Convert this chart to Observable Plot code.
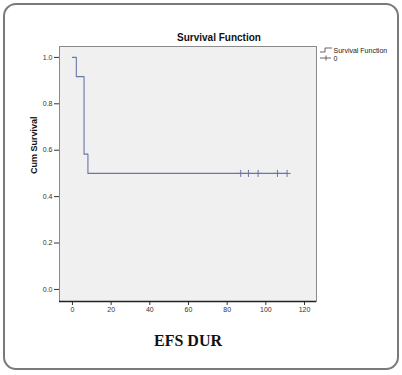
<!DOCTYPE html>
<html>
<head>
<meta charset="utf-8">
<script src="https://cdn.jsdelivr.net/npm/d3@7"></script>
<script src="https://cdn.jsdelivr.net/npm/@observablehq/plot@0.6"></script>
<style>
  html, body { margin: 0; padding: 0; background: #fff; }
  #wrap { position: relative; width: 402px; height: 375px; overflow: hidden; }
  #border { position: absolute; left: 3px; top: 3px; width: 396px; height: 367px; box-sizing: border-box;
            border: 2.5px solid #7a7a7a; border-radius: 13px; pointer-events: none; }
</style>
</head>
<body>
<div id="wrap"><div id="chart"></div><div id="border"></div></div>
<script>
// Kaplan-Meier survival function (EFS DUR)
const times = [0, 2, 6, 8, 111];
const survival = [1.0, 0.917, 0.583, 0.5, 0.5];
const censorTimes = [87, 91, 96, 106, 111];
const censorSurvival = [0.5, 0.5, 0.5, 0.5, 0.5];
const xTicks = [0, 20, 40, 60, 80, 100, 120];
const yTicks = [0.0, 0.2, 0.4, 0.6, 0.8, 1.0];

const curve = times.map((t, i) => ({t, s: survival[i]}));
const censors = censorTimes.map((t, i) => ({t, s: censorSurvival[i]}));

const lineColor = "#6b76a8";
const sans = "Liberation Sans, Arial, sans-serif";

const plot = Plot.plot({
  width: 402,
  height: 375,
  marginLeft: 59,
  marginRight: 86,
  marginTop: 46,
  marginBottom: 74,
  style: {background: "transparent", fontFamily: sans},
  x: {domain: [-6.7, 126.2], ticks: xTicks, tickSize: 4, tickPadding: 2, label: null, tickFormat: d3.format("d")},
  y: {domain: [-0.052, 1.047], ticks: yTicks, tickSize: 5, tickPadding: 2, label: null, tickFormat: d3.format(".1f")},
  marks: [
    Plot.frame({fill: "#f0f0f0", stroke: "#8a8a8a", strokeWidth: 1}),
    Plot.axisX({ticks: xTicks, tickSize: 4, tickPadding: 2, tickFormat: d3.format("d"), label: null, fontSize: 7, color: "#333"}),
    Plot.axisY({ticks: yTicks, tickSize: 5, tickPadding: 2, tickFormat: d3.format(".1f"), label: null, fontSize: 7, color: "#333"}),
    Plot.ruleY([-0.052], {stroke: "#222", strokeWidth: 1.3}),
    Plot.line(curve, {x: "t", y: "s", curve: "step-after", stroke: lineColor, strokeWidth: 1.1}),
    Plot.dot(censors, {x: "t", y: "s", symbol: "plus", r: 2.4, stroke: lineColor, strokeWidth: 1}),
    Plot.text(["Survival Function"], {frameAnchor: "top", dx: 31, dy: -9, lineAnchor: "middle", fontSize: 10, fontWeight: "bold", fill: "#111", fontFamily: sans}),
    Plot.text(["Cum Survival"], {frameAnchor: "left", dx: -25, rotate: -90, lineAnchor: "middle", fontSize: 9, fontWeight: "bold", fill: "#111", fontFamily: sans}),
    Plot.text(["EFS DUR"], {frameAnchor: "bottom", dy: 39, lineAnchor: "middle", fontSize: 16, fontWeight: "bold", fill: "#111", fontFamily: "Liberation Serif, Times New Roman, serif"}),
    Plot.text(["Survival Function"], {frameAnchor: "top-right", dx: 17, dy: 4, textAnchor: "start", lineAnchor: "middle", fontSize: 7, fill: "#222", fontFamily: sans}),
    Plot.text(["0"], {frameAnchor: "top-right", dx: 17, dy: 12, textAnchor: "start", lineAnchor: "middle", fontSize: 7, fill: "#222", fontFamily: sans})
  ]
});

document.getElementById("chart").appendChild(plot);

// legend symbols (drawn next to the legend text, relative to the frame's top-right corner)
const svg = d3.select(plot);
const fx = 402 - 86, fy = 46;
const g = svg.append("g").attr("fill", "none").attr("stroke", "#555").attr("stroke-width", 0.9);
g.append("path").attr("d", `M${fx+4},${fy+6}H${fx+9}V${fy+2}H${fx+16}`);
g.append("path").attr("d", `M${fx+4},${fy+12}H${fx+15}M${fx+10},${fy+9.5}V${fy+14.5}`);
</script>
</body>
</html>
